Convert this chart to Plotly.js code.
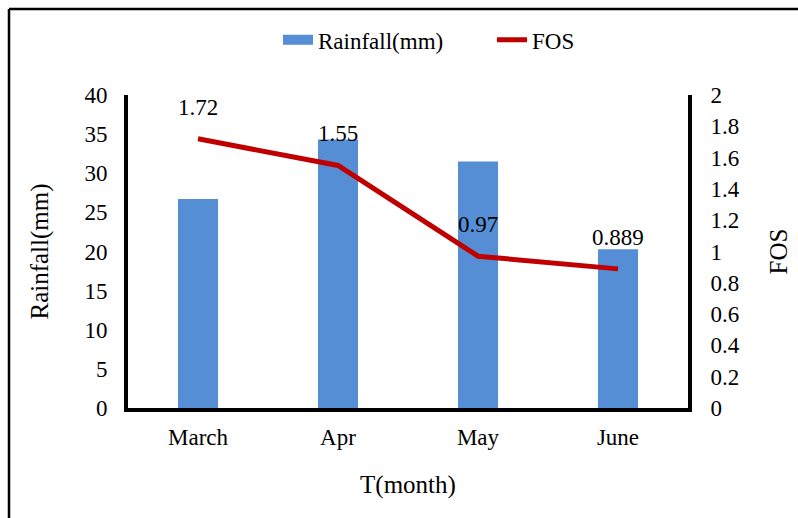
<!DOCTYPE html>
<html>
<head>
<meta charset="utf-8">
<script src="https://cdn.plot.ly/plotly-3.0.1.min.js"></script>
<style>
html,body{margin:0;padding:0;background:#fff;}
#chart{width:798px;height:518px;}
</style>
</head>
<body>
<div id="chart"></div>
<script>
const months = ["March", "Apr", "May", "June"];
const rainfall = [26.7, 34.3, 31.5, 20.3];
const fos = [1.72, 1.55, 0.97, 0.889];
const fosLabels = ["1.72", "1.55", "0.97", "0.889"];
const leftTicks = [0, 5, 10, 15, 20, 25, 30, 35, 40];
const rightTicks = [0, 0.2, 0.4, 0.6, 0.8, 1, 1.2, 1.4, 1.6, 1.8, 2];

const FONT = "Liberation Serif, Times New Roman, serif";
const TICK = 23;

const traces = [
  {
    type: "bar",
    name: "Rainfall(mm)",
    x: months,
    y: rainfall,
    marker: {color: "#558ed5"},
    yaxis: "y",
    showlegend: false
  },
  {
    // legend entry for the bars, drawn as a wide rectangle swatch
    type: "scatter",
    mode: "lines",
    name: "Rainfall(mm)",
    x: [months[0]],
    y: [null],
    line: {color: "#558ed5", width: 12},
    yaxis: "y",
    hoverinfo: "skip"
  },
  {
    type: "scatter",
    mode: "lines",
    name: "FOS",
    x: months,
    y: fos,
    line: {color: "#c00000", width: 5},
    yaxis: "y2"
  }
];

const annotations = months.map((m, i) => ({
  x: m, y: fos[i], xref: "x", yref: "y2",
  text: fosLabels[i], showarrow: false,
  yanchor: "bottom", yshift: 17,
  font: {family: FONT, size: TICK, color: "#000"}
}));

const layout = {
  width: 798, height: 518,
  margin: {l: 128, r: 110, t: 95, b: 110},
  paper_bgcolor: "#fff", plot_bgcolor: "#fff",
  font: {family: FONT, size: TICK, color: "#000"},
  bargap: 0.714,
  showlegend: true,
  legend: {
    orientation: "h", x: 0.65, xanchor: "center", y: 1.245, yanchor: "top",
    font: {family: FONT, size: 23, color: "#000"},
    traceorder: "normal",
    entrywidth: 169
  },
  xaxis: {
    type: "category",
    showline: true, linecolor: "#000", linewidth: 4,
    showgrid: false, zeroline: false, ticks: "",
    ticklabelstandoff: 5,
    tickfont: {family: FONT, size: TICK, color: "#000"},
    title: {text: "T(month)", standoff: 28, font: {family: FONT, size: 25, color: "#000"}}
  },
  yaxis: {
    range: [0, 40], tickvals: leftTicks,
    showline: true, linecolor: "#000", linewidth: 4,
    showgrid: false, zeroline: false, ticks: "",
    ticklabelstandoff: 12,
    tickfont: {family: FONT, size: TICK, color: "#000"},
    title: {text: "Rainfall(mm)", standoff: 30, font: {family: FONT, size: 25, color: "#000"}}
  },
  yaxis2: {
    overlaying: "y", side: "right",
    range: [0, 2], tickvals: rightTicks,
    showline: true, linecolor: "#000", linewidth: 4,
    showgrid: false, zeroline: false, ticks: "",
    ticklabelstandoff: 14,
    tickfont: {family: FONT, size: TICK, color: "#000"},
    title: {text: "FOS", standoff: 32, font: {family: FONT, size: 25, color: "#000"}}
  },
  annotations: annotations,
  shapes: [
    {type: "line", xref: "paper", yref: "paper", x0: -0.2125, x1: -0.2125, y0: -0.4, y1: 1.2748, line: {color: "#000", width: 2.5}},
    {type: "line", xref: "paper", yref: "paper", x0: -0.2125, x1: 1.3, y0: 1.2748, y1: 1.2748, line: {color: "#000", width: 2.5}}
  ]
};

Plotly.newPlot("chart", traces, layout, {displayModeBar: false, staticPlot: true});
</script>
</body>
</html>
